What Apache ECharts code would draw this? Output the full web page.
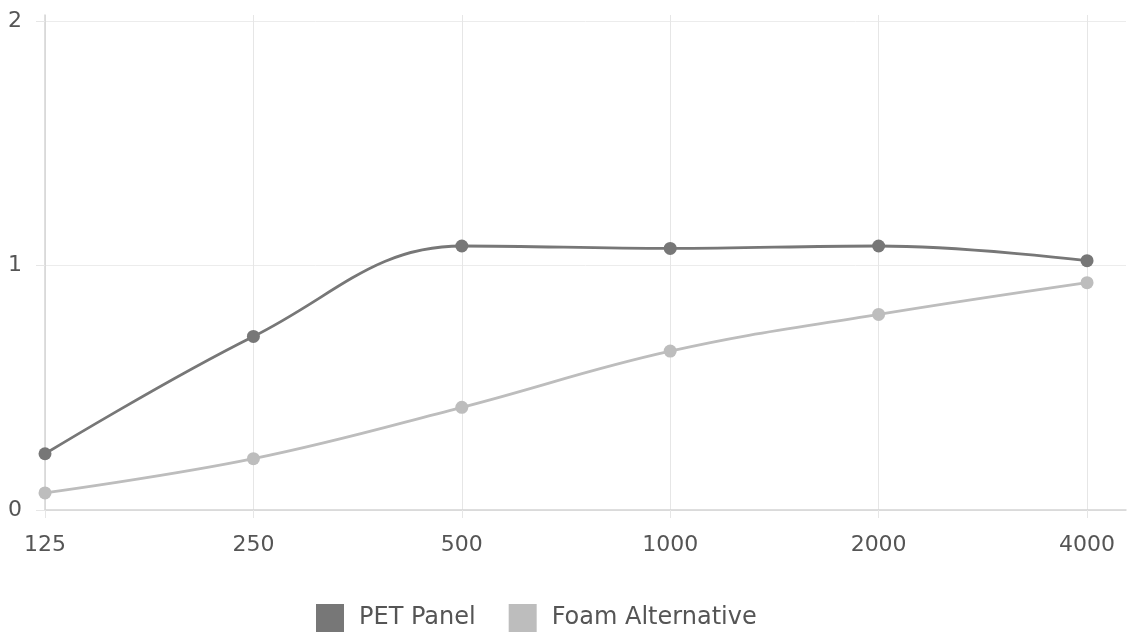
<!DOCTYPE html>
<html><head><meta charset="utf-8">
<script src="https://cdn.jsdelivr.net/npm/echarts@6/dist/echarts.min.js"></script>
<style>html,body{margin:0;padding:0;background:#fff}#c{width:1127px;height:640px}</style>
</head><body><div id="c"></div>
<script>
const categories = ['125', '250', '500', '1000', '2000', '4000'];
const petPanel = [0.23, 0.71, 1.08, 1.07, 1.08, 1.02];
const foamAlternative = [0.07, 0.21, 0.42, 0.65, 0.80, 0.93];
const yTicks = [0, 1, 2];

const idx = categories.map((_, i) => i);
const FONT = 'DejaVu Sans';
const chart = echarts.init(document.getElementById('c'));
chart.setOption({
  animation: false,
  textStyle: { fontFamily: FONT },
  grid: { left: 45, right: 1, top: 15, bottom: 130, containLabel: false },
  legend: {
    left: 311, bottom: 3, itemWidth: 28, itemHeight: 28, itemGap: 33, icon: 'rect',
    textStyle: { fontSize: 24, color: '#555', fontFamily: FONT, padding: [0, 0, 0, 10] },
    data: ['PET Panel', 'Foam Alternative']
  },
  xAxis: {
    type: 'value', min: 0, max: 5.187,
    axisLine: { show: true, lineStyle: { color: '#d4d4d4', width: 1.5 } },
    axisTick: { show: true, length: 8, customValues: idx, lineStyle: { color: '#e6e6e6' } },
    axisLabel: { customValues: idx, formatter: v => categories[Math.round(v)], fontSize: 22, color: '#555', margin: 24 },
    splitLine: { show: true, lineStyle: { color: '#e6e6e6', width: 1 } }
  },
  yAxis: {
    type: 'value', min: 0, max: 2.025,
    axisLine: { show: true, lineStyle: { color: '#d4d4d4', width: 1.5 } },
    axisTick: { show: true, length: 9, customValues: yTicks, lineStyle: { color: '#e6e6e6' } },
    axisLabel: { customValues: yTicks, fontSize: 22, color: '#555', margin: 23 },
    splitLine: { show: true, lineStyle: { color: '#ececec', width: 1 } }
  },
  series: [
    { name: 'PET Panel', type: 'line', smooth: 0.4, data: idx.map(i => [i, petPanel[i]]),
      symbol: 'circle', symbolSize: 13, color: '#777777', lineStyle: { width: 2.8, color: '#777777' } },
    { name: 'Foam Alternative', type: 'line', smooth: 0.4, data: idx.map(i => [i, foamAlternative[i]]),
      symbol: 'circle', symbolSize: 13, color: '#bdbdbd', lineStyle: { width: 2.8, color: '#bdbdbd' } }
  ]
});
</script></body></html>
